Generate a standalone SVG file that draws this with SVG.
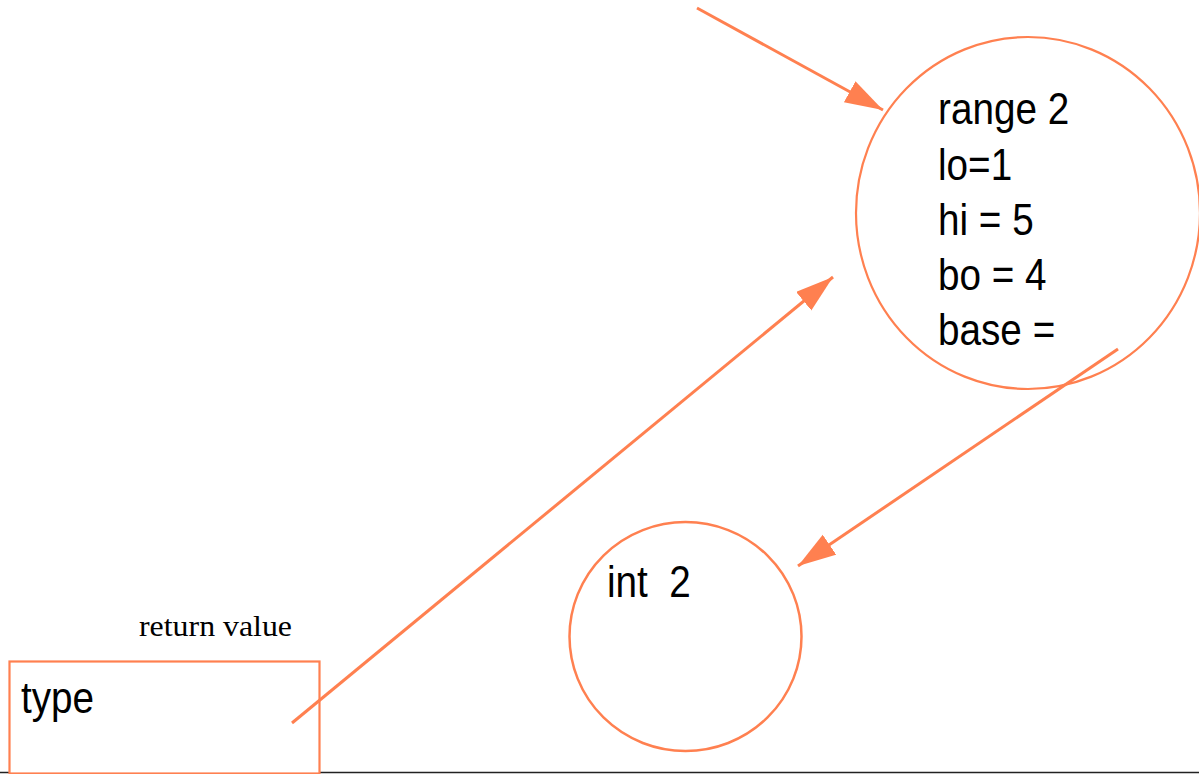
<svg xmlns="http://www.w3.org/2000/svg" width="1199" height="774" viewBox="0 0 1199 774">
  <style>
    .shape { fill: none; stroke: #FF8050; stroke-width: 2.2; }
    .conn { fill: none; stroke: #FF8050; stroke-width: 3; }
    .lbl { font-family: "Liberation Sans", Arial, sans-serif; font-size: 45px; fill: #000; }
    .serif { font-family: "Liberation Serif", "Times New Roman", serif; font-size: 29px; fill: #000; }
  </style>
  <defs>
    <marker id="ah" markerUnits="userSpaceOnUse" markerWidth="40" markerHeight="26" refX="38" refY="12" orient="auto">
      <path d="M0,0 L38,12 L0,24 Z" fill="#FF8050"/>
    </marker>
  </defs>
  <rect width="1199" height="774" fill="#fff"/>
  <line x1="0" y1="772.5" x2="1199" y2="772.5" stroke="#222" stroke-width="1.5"/>

  <g id="range2">
    <ellipse class="shape" cx="1028" cy="213" rx="172" ry="176"/>
    <g transform="translate(938,0) scale(0.86,1)">
      <text class="lbl" x="0" y="124">range 2</text>
      <text class="lbl" x="0" y="180">lo=1</text>
      <text class="lbl" x="0" y="235">hi = 5</text>
      <text class="lbl" x="0" y="290">bo = 4</text>
      <text class="lbl" x="0" y="345">base =</text>
    </g>
  </g>

  <g id="int2">
    <ellipse class="shape" cx="685.5" cy="636.5" rx="116" ry="114.5" style="stroke-width:2.5"/>
    <text class="lbl" transform="translate(607,597) scale(0.86,1)" xml:space="preserve">int  2</text>
  </g>

  <g id="type">
    <text class="serif" x="139" y="636" textLength="153" lengthAdjust="spacingAndGlyphs">return value</text>
    <rect x="9.5" y="661.5" width="310" height="112" fill="#fff" stroke="#FF8050" stroke-width="2.2"/>
    <text class="lbl" transform="translate(21,713) scale(0.86,1)">type</text>
  </g>

  <g id="connectors">
    <line class="conn" x1="697" y1="8" x2="883" y2="110" marker-end="url(#ah)"/>
    <line class="conn" x1="292" y1="723" x2="833" y2="277" marker-end="url(#ah)"/>
    <line class="conn" x1="1118" y1="349" x2="798" y2="566" marker-end="url(#ah)"/>
  </g>
</svg>
